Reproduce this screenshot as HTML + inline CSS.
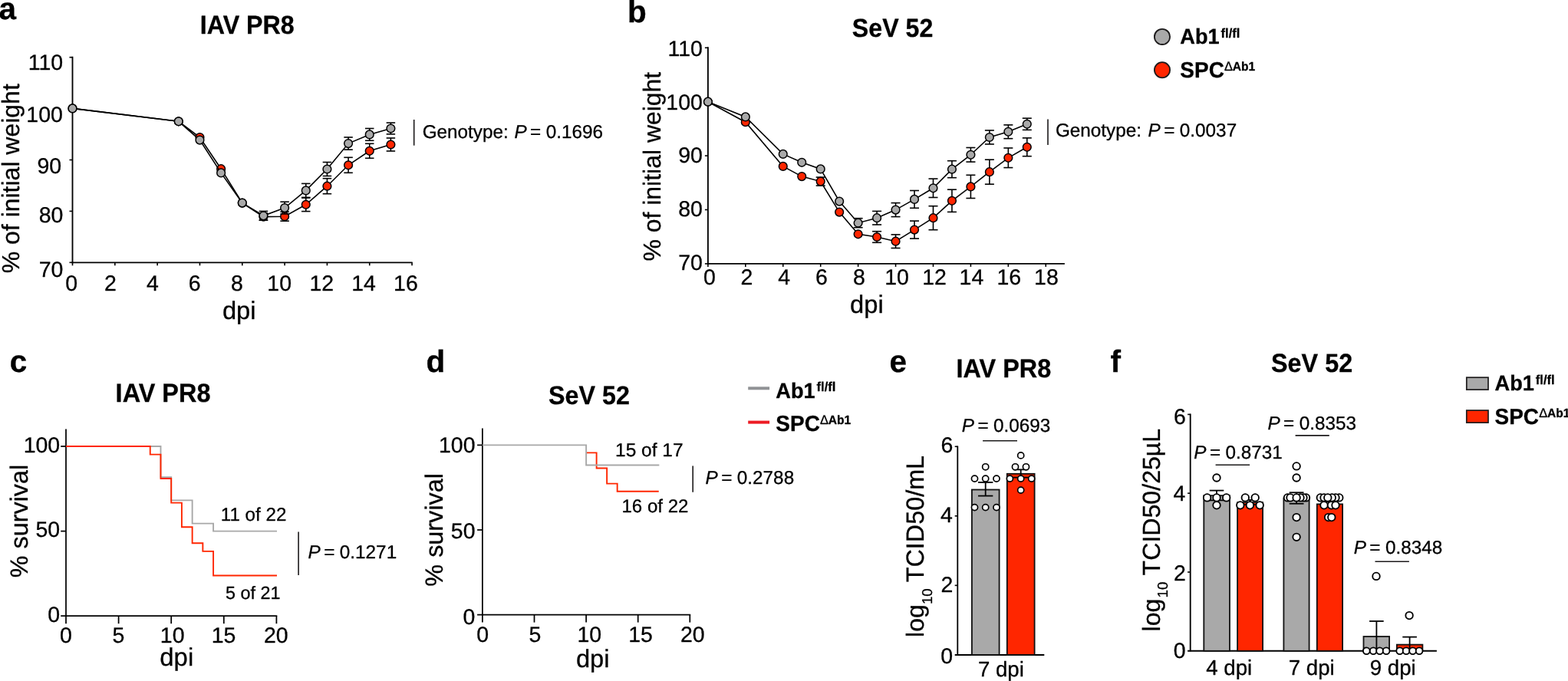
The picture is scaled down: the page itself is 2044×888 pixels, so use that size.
<!DOCTYPE html>
<html lang="en">
<head>
<meta charset="utf-8">
<title>Figure</title>
<style>
html,body{margin:0;padding:0;background:#fff;}
body{width:2044px;height:888px;overflow:hidden;}
svg{display:block;font-family:"Liberation Sans",Arial,Helvetica,sans-serif;fill:#000;text-rendering:geometricPrecision;}
text{stroke:#000;stroke-width:0.3px;stroke-linejoin:round;}
</style>
</head>
<body>
<svg width="2044" height="888" viewBox="0 0 2044 888">
<rect x="0" y="0" width="2044" height="888" fill="#fff" stroke="none"/>
<text x="-1.51" y="24.70" font-size="40.50" font-weight="bold">a</text>
<text transform="translate(260.82 43.50) scale(1 1.05)" font-size="32.23" font-weight="bold">IAV PR8</text>
<line x1="94.50" y1="73.77" x2="94.50" y2="343.23" stroke="#000" stroke-width="1.85" stroke-linecap="butt"/>
<line x1="93.58" y1="342.30" x2="537.66" y2="342.30" stroke="#000" stroke-width="1.85" stroke-linecap="butt"/>
<line x1="94.50" y1="342.30" x2="94.50" y2="346.30" stroke="#000" stroke-width="1.6" stroke-linecap="butt"/>
<line x1="149.82" y1="342.30" x2="149.82" y2="346.30" stroke="#000" stroke-width="1.6" stroke-linecap="butt"/>
<line x1="205.14" y1="342.30" x2="205.14" y2="346.30" stroke="#000" stroke-width="1.6" stroke-linecap="butt"/>
<line x1="260.46" y1="342.30" x2="260.46" y2="346.30" stroke="#000" stroke-width="1.6" stroke-linecap="butt"/>
<line x1="315.78" y1="342.30" x2="315.78" y2="346.30" stroke="#000" stroke-width="1.6" stroke-linecap="butt"/>
<line x1="371.10" y1="342.30" x2="371.10" y2="346.30" stroke="#000" stroke-width="1.6" stroke-linecap="butt"/>
<line x1="426.42" y1="342.30" x2="426.42" y2="346.30" stroke="#000" stroke-width="1.6" stroke-linecap="butt"/>
<line x1="481.74" y1="342.30" x2="481.74" y2="346.30" stroke="#000" stroke-width="1.6" stroke-linecap="butt"/>
<line x1="537.06" y1="342.30" x2="537.06" y2="346.30" stroke="#000" stroke-width="1.6" stroke-linecap="butt"/>
<line x1="90.50" y1="342.30" x2="94.50" y2="342.30" stroke="#000" stroke-width="1.6" stroke-linecap="butt"/>
<line x1="90.50" y1="275.40" x2="94.50" y2="275.40" stroke="#000" stroke-width="1.6" stroke-linecap="butt"/>
<line x1="90.50" y1="208.50" x2="94.50" y2="208.50" stroke="#000" stroke-width="1.6" stroke-linecap="butt"/>
<line x1="90.50" y1="141.60" x2="94.50" y2="141.60" stroke="#000" stroke-width="1.6" stroke-linecap="butt"/>
<line x1="90.50" y1="74.70" x2="94.50" y2="74.70" stroke="#000" stroke-width="1.6" stroke-linecap="butt"/>
<text x="36.68" y="91.00" font-size="28.50">110</text>
<text x="34.34" y="158.60" font-size="28.50">100</text>
<text x="48.43" y="226.00" font-size="28.50">90</text>
<text x="50.63" y="290.00" font-size="28.50">80</text>
<text x="50.63" y="360.90" font-size="28.50">70</text>
<text x="85.21" y="379.30" font-size="28.50">0</text>
<text x="136.09" y="379.30" font-size="28.50">2</text>
<text x="191.06" y="379.30" font-size="28.50">4</text>
<text x="245.78" y="379.30" font-size="28.50">6</text>
<text x="301.09" y="379.30" font-size="28.50">8</text>
<text x="348.35" y="379.30" font-size="28.50">10</text>
<text x="403.48" y="379.30" font-size="28.50">12</text>
<text x="458.21" y="379.30" font-size="28.50">14</text>
<text x="513.12" y="379.30" font-size="28.50">16</text>
<text x="289.91" y="415.50" font-size="32.73">dpi</text>
<text x="24.80" y="356.22" transform="rotate(-90 24.80 356.22)" font-size="31.97">% of initial weight</text>
<polyline points="94.50,141.40 232.80,158.30 260.46,179.00 288.12,220.20 315.78,264.60 343.44,282.60 371.10,282.20 398.76,266.80 426.42,242.70 454.08,215.30 481.74,196.80 509.40,188.50" fill="none" stroke="#000" stroke-width="1.6" stroke-linejoin="miter"/>
<line x1="343.44" y1="278.00" x2="343.44" y2="287.20" stroke="#000" stroke-width="1.6" stroke-linecap="butt"/>
<line x1="337.69" y1="278.00" x2="349.19" y2="278.00" stroke="#000" stroke-width="1.6" stroke-linecap="butt"/>
<line x1="337.69" y1="287.20" x2="349.19" y2="287.20" stroke="#000" stroke-width="1.6" stroke-linecap="butt"/>
<line x1="371.10" y1="276.20" x2="371.10" y2="288.20" stroke="#000" stroke-width="1.6" stroke-linecap="butt"/>
<line x1="365.35" y1="276.20" x2="376.85" y2="276.20" stroke="#000" stroke-width="1.6" stroke-linecap="butt"/>
<line x1="365.35" y1="288.20" x2="376.85" y2="288.20" stroke="#000" stroke-width="1.6" stroke-linecap="butt"/>
<line x1="398.76" y1="258.00" x2="398.76" y2="275.60" stroke="#000" stroke-width="1.6" stroke-linecap="butt"/>
<line x1="393.01" y1="258.00" x2="404.51" y2="258.00" stroke="#000" stroke-width="1.6" stroke-linecap="butt"/>
<line x1="393.01" y1="275.60" x2="404.51" y2="275.60" stroke="#000" stroke-width="1.6" stroke-linecap="butt"/>
<line x1="426.42" y1="232.70" x2="426.42" y2="252.70" stroke="#000" stroke-width="1.6" stroke-linecap="butt"/>
<line x1="420.67" y1="232.70" x2="432.17" y2="232.70" stroke="#000" stroke-width="1.6" stroke-linecap="butt"/>
<line x1="420.67" y1="252.70" x2="432.17" y2="252.70" stroke="#000" stroke-width="1.6" stroke-linecap="butt"/>
<line x1="454.08" y1="205.30" x2="454.08" y2="225.30" stroke="#000" stroke-width="1.6" stroke-linecap="butt"/>
<line x1="448.33" y1="205.30" x2="459.83" y2="205.30" stroke="#000" stroke-width="1.6" stroke-linecap="butt"/>
<line x1="448.33" y1="225.30" x2="459.83" y2="225.30" stroke="#000" stroke-width="1.6" stroke-linecap="butt"/>
<line x1="481.74" y1="187.30" x2="481.74" y2="206.30" stroke="#000" stroke-width="1.6" stroke-linecap="butt"/>
<line x1="475.99" y1="187.30" x2="487.49" y2="187.30" stroke="#000" stroke-width="1.6" stroke-linecap="butt"/>
<line x1="475.99" y1="206.30" x2="487.49" y2="206.30" stroke="#000" stroke-width="1.6" stroke-linecap="butt"/>
<line x1="509.40" y1="180.00" x2="509.40" y2="197.00" stroke="#000" stroke-width="1.6" stroke-linecap="butt"/>
<line x1="503.65" y1="180.00" x2="515.15" y2="180.00" stroke="#000" stroke-width="1.6" stroke-linecap="butt"/>
<line x1="503.65" y1="197.00" x2="515.15" y2="197.00" stroke="#000" stroke-width="1.6" stroke-linecap="butt"/>
<circle cx="94.50" cy="141.40" r="5.35" fill="#ff2600" stroke="#000" stroke-width="1.5"/>
<circle cx="232.80" cy="158.30" r="5.35" fill="#ff2600" stroke="#000" stroke-width="1.5"/>
<circle cx="260.46" cy="179.00" r="5.35" fill="#ff2600" stroke="#000" stroke-width="1.5"/>
<circle cx="288.12" cy="220.20" r="5.35" fill="#ff2600" stroke="#000" stroke-width="1.5"/>
<circle cx="315.78" cy="264.60" r="5.35" fill="#ff2600" stroke="#000" stroke-width="1.5"/>
<circle cx="343.44" cy="282.60" r="5.35" fill="#ff2600" stroke="#000" stroke-width="1.5"/>
<circle cx="371.10" cy="282.20" r="5.35" fill="#ff2600" stroke="#000" stroke-width="1.5"/>
<circle cx="398.76" cy="266.80" r="5.35" fill="#ff2600" stroke="#000" stroke-width="1.5"/>
<circle cx="426.42" cy="242.70" r="5.35" fill="#ff2600" stroke="#000" stroke-width="1.5"/>
<circle cx="454.08" cy="215.30" r="5.35" fill="#ff2600" stroke="#000" stroke-width="1.5"/>
<circle cx="481.74" cy="196.80" r="5.35" fill="#ff2600" stroke="#000" stroke-width="1.5"/>
<circle cx="509.40" cy="188.50" r="5.35" fill="#ff2600" stroke="#000" stroke-width="1.5"/>
<polyline points="94.50,141.40 232.80,158.30 260.46,182.60 288.12,225.40 315.78,264.60 343.44,281.30 371.10,271.10 398.76,248.40 426.42,220.50 454.08,187.10 481.74,175.40 509.40,167.50" fill="none" stroke="#000" stroke-width="1.6" stroke-linejoin="miter"/>
<line x1="343.44" y1="275.40" x2="343.44" y2="287.20" stroke="#000" stroke-width="1.6" stroke-linecap="butt"/>
<line x1="337.69" y1="275.40" x2="349.19" y2="275.40" stroke="#000" stroke-width="1.6" stroke-linecap="butt"/>
<line x1="337.69" y1="287.20" x2="349.19" y2="287.20" stroke="#000" stroke-width="1.6" stroke-linecap="butt"/>
<line x1="371.10" y1="263.20" x2="371.10" y2="279.00" stroke="#000" stroke-width="1.6" stroke-linecap="butt"/>
<line x1="365.35" y1="263.20" x2="376.85" y2="263.20" stroke="#000" stroke-width="1.6" stroke-linecap="butt"/>
<line x1="365.35" y1="279.00" x2="376.85" y2="279.00" stroke="#000" stroke-width="1.6" stroke-linecap="butt"/>
<line x1="398.76" y1="239.40" x2="398.76" y2="257.40" stroke="#000" stroke-width="1.6" stroke-linecap="butt"/>
<line x1="393.01" y1="239.40" x2="404.51" y2="239.40" stroke="#000" stroke-width="1.6" stroke-linecap="butt"/>
<line x1="393.01" y1="257.40" x2="404.51" y2="257.40" stroke="#000" stroke-width="1.6" stroke-linecap="butt"/>
<line x1="426.42" y1="211.50" x2="426.42" y2="229.50" stroke="#000" stroke-width="1.6" stroke-linecap="butt"/>
<line x1="420.67" y1="211.50" x2="432.17" y2="211.50" stroke="#000" stroke-width="1.6" stroke-linecap="butt"/>
<line x1="420.67" y1="229.50" x2="432.17" y2="229.50" stroke="#000" stroke-width="1.6" stroke-linecap="butt"/>
<line x1="454.08" y1="179.00" x2="454.08" y2="195.20" stroke="#000" stroke-width="1.6" stroke-linecap="butt"/>
<line x1="448.33" y1="179.00" x2="459.83" y2="179.00" stroke="#000" stroke-width="1.6" stroke-linecap="butt"/>
<line x1="448.33" y1="195.20" x2="459.83" y2="195.20" stroke="#000" stroke-width="1.6" stroke-linecap="butt"/>
<line x1="481.74" y1="167.50" x2="481.74" y2="183.30" stroke="#000" stroke-width="1.6" stroke-linecap="butt"/>
<line x1="475.99" y1="167.50" x2="487.49" y2="167.50" stroke="#000" stroke-width="1.6" stroke-linecap="butt"/>
<line x1="475.99" y1="183.30" x2="487.49" y2="183.30" stroke="#000" stroke-width="1.6" stroke-linecap="butt"/>
<line x1="509.40" y1="160.10" x2="509.40" y2="174.90" stroke="#000" stroke-width="1.6" stroke-linecap="butt"/>
<line x1="503.65" y1="160.10" x2="515.15" y2="160.10" stroke="#000" stroke-width="1.6" stroke-linecap="butt"/>
<line x1="503.65" y1="174.90" x2="515.15" y2="174.90" stroke="#000" stroke-width="1.6" stroke-linecap="butt"/>
<circle cx="94.50" cy="141.40" r="5.35" fill="#a9a9a9" stroke="#000" stroke-width="1.5"/>
<circle cx="232.80" cy="158.30" r="5.35" fill="#a9a9a9" stroke="#000" stroke-width="1.5"/>
<circle cx="260.46" cy="182.60" r="5.35" fill="#a9a9a9" stroke="#000" stroke-width="1.5"/>
<circle cx="288.12" cy="225.40" r="5.35" fill="#a9a9a9" stroke="#000" stroke-width="1.5"/>
<circle cx="315.78" cy="264.60" r="5.35" fill="#a9a9a9" stroke="#000" stroke-width="1.5"/>
<circle cx="343.44" cy="281.30" r="5.35" fill="#a9a9a9" stroke="#000" stroke-width="1.5"/>
<circle cx="371.10" cy="271.10" r="5.35" fill="#a9a9a9" stroke="#000" stroke-width="1.5"/>
<circle cx="398.76" cy="248.40" r="5.35" fill="#a9a9a9" stroke="#000" stroke-width="1.5"/>
<circle cx="426.42" cy="220.50" r="5.35" fill="#a9a9a9" stroke="#000" stroke-width="1.5"/>
<circle cx="454.08" cy="187.10" r="5.35" fill="#a9a9a9" stroke="#000" stroke-width="1.5"/>
<circle cx="481.74" cy="175.40" r="5.35" fill="#a9a9a9" stroke="#000" stroke-width="1.5"/>
<circle cx="509.40" cy="167.50" r="5.35" fill="#a9a9a9" stroke="#000" stroke-width="1.5"/>
<line x1="539.70" y1="156.00" x2="539.70" y2="189.70" stroke="#1c1a1b" stroke-width="1.6" stroke-linecap="butt"/>
<text y="179.80" font-size="24.3"><tspan x="550.68">Genotype:</tspan> <tspan x="670.47" font-style="italic">P</tspan> <tspan x="691.12">=</tspan> <tspan x="711.73">0.1696</tspan></text>
<text x="818.07" y="28.70" font-size="40.50" font-weight="bold">b</text>
<text transform="translate(1110.84 47.90) scale(1 1.05)" font-size="32.16" font-weight="bold">SeV 52</text>
<line x1="922.90" y1="61.37" x2="922.90" y2="344.82" stroke="#000" stroke-width="1.85" stroke-linecap="butt"/>
<line x1="921.98" y1="343.90" x2="1387.90" y2="343.90" stroke="#000" stroke-width="1.85" stroke-linecap="butt"/>
<line x1="922.90" y1="343.90" x2="922.90" y2="347.90" stroke="#000" stroke-width="1.6" stroke-linecap="butt"/>
<line x1="971.83" y1="343.90" x2="971.83" y2="347.90" stroke="#000" stroke-width="1.6" stroke-linecap="butt"/>
<line x1="1020.76" y1="343.90" x2="1020.76" y2="347.90" stroke="#000" stroke-width="1.6" stroke-linecap="butt"/>
<line x1="1069.69" y1="343.90" x2="1069.69" y2="347.90" stroke="#000" stroke-width="1.6" stroke-linecap="butt"/>
<line x1="1118.62" y1="343.90" x2="1118.62" y2="347.90" stroke="#000" stroke-width="1.6" stroke-linecap="butt"/>
<line x1="1167.55" y1="343.90" x2="1167.55" y2="347.90" stroke="#000" stroke-width="1.6" stroke-linecap="butt"/>
<line x1="1216.48" y1="343.90" x2="1216.48" y2="347.90" stroke="#000" stroke-width="1.6" stroke-linecap="butt"/>
<line x1="1265.41" y1="343.90" x2="1265.41" y2="347.90" stroke="#000" stroke-width="1.6" stroke-linecap="butt"/>
<line x1="1314.34" y1="343.90" x2="1314.34" y2="347.90" stroke="#000" stroke-width="1.6" stroke-linecap="butt"/>
<line x1="1363.27" y1="343.90" x2="1363.27" y2="347.90" stroke="#000" stroke-width="1.6" stroke-linecap="butt"/>
<line x1="918.90" y1="343.90" x2="922.90" y2="343.90" stroke="#000" stroke-width="1.6" stroke-linecap="butt"/>
<line x1="918.90" y1="273.50" x2="922.90" y2="273.50" stroke="#000" stroke-width="1.6" stroke-linecap="butt"/>
<line x1="918.90" y1="203.10" x2="922.90" y2="203.10" stroke="#000" stroke-width="1.6" stroke-linecap="butt"/>
<line x1="918.90" y1="132.70" x2="922.90" y2="132.70" stroke="#000" stroke-width="1.6" stroke-linecap="butt"/>
<line x1="918.90" y1="62.30" x2="922.90" y2="62.30" stroke="#000" stroke-width="1.6" stroke-linecap="butt"/>
<text x="870.48" y="73.40" font-size="28.50">110</text>
<text x="868.34" y="142.60" font-size="28.50">100</text>
<text x="884.23" y="212.00" font-size="28.50">90</text>
<text x="884.23" y="282.30" font-size="28.50">80</text>
<text x="884.23" y="352.10" font-size="28.50">70</text>
<text x="917.06" y="371.30" font-size="28.50">0</text>
<text x="965.49" y="371.30" font-size="28.50">2</text>
<text x="1014.26" y="371.30" font-size="28.50">4</text>
<text x="1062.98" y="371.30" font-size="28.50">6</text>
<text x="1112.09" y="371.30" font-size="28.50">8</text>
<text x="1153.15" y="371.30" font-size="28.50">10</text>
<text x="1202.23" y="371.30" font-size="28.50">12</text>
<text x="1250.61" y="371.30" font-size="28.50">14</text>
<text x="1299.52" y="371.30" font-size="28.50">16</text>
<text x="1348.12" y="371.30" font-size="28.50">18</text>
<text x="1108.01" y="407.50" font-size="32.73">dpi</text>
<text x="861.00" y="340.62" transform="rotate(-90 861.00 340.62)" font-size="31.96">% of initial weight</text>
<polyline points="922.90,132.70 971.83,159.20 1020.76,216.90 1045.22,230.10 1069.69,236.60 1094.15,276.60 1118.62,305.30 1143.09,309.00 1167.55,314.70 1192.01,299.60 1216.48,284.20 1240.94,261.80 1265.41,243.40 1289.88,224.20 1314.34,205.80 1338.80,191.80" fill="none" stroke="#000" stroke-width="1.6" stroke-linejoin="miter"/>
<line x1="1069.69" y1="231.10" x2="1069.69" y2="242.10" stroke="#000" stroke-width="1.6" stroke-linecap="butt"/>
<line x1="1063.69" y1="231.10" x2="1075.69" y2="231.10" stroke="#000" stroke-width="1.6" stroke-linecap="butt"/>
<line x1="1063.69" y1="242.10" x2="1075.69" y2="242.10" stroke="#000" stroke-width="1.6" stroke-linecap="butt"/>
<line x1="1143.09" y1="301.70" x2="1143.09" y2="316.30" stroke="#000" stroke-width="1.6" stroke-linecap="butt"/>
<line x1="1137.09" y1="301.70" x2="1149.09" y2="301.70" stroke="#000" stroke-width="1.6" stroke-linecap="butt"/>
<line x1="1137.09" y1="316.30" x2="1149.09" y2="316.30" stroke="#000" stroke-width="1.6" stroke-linecap="butt"/>
<line x1="1167.55" y1="305.90" x2="1167.55" y2="323.50" stroke="#000" stroke-width="1.6" stroke-linecap="butt"/>
<line x1="1161.55" y1="305.90" x2="1173.55" y2="305.90" stroke="#000" stroke-width="1.6" stroke-linecap="butt"/>
<line x1="1161.55" y1="323.50" x2="1173.55" y2="323.50" stroke="#000" stroke-width="1.6" stroke-linecap="butt"/>
<line x1="1192.01" y1="288.10" x2="1192.01" y2="311.10" stroke="#000" stroke-width="1.6" stroke-linecap="butt"/>
<line x1="1186.01" y1="288.10" x2="1198.01" y2="288.10" stroke="#000" stroke-width="1.6" stroke-linecap="butt"/>
<line x1="1186.01" y1="311.10" x2="1198.01" y2="311.10" stroke="#000" stroke-width="1.6" stroke-linecap="butt"/>
<line x1="1216.48" y1="268.70" x2="1216.48" y2="299.70" stroke="#000" stroke-width="1.6" stroke-linecap="butt"/>
<line x1="1210.48" y1="268.70" x2="1222.48" y2="268.70" stroke="#000" stroke-width="1.6" stroke-linecap="butt"/>
<line x1="1210.48" y1="299.70" x2="1222.48" y2="299.70" stroke="#000" stroke-width="1.6" stroke-linecap="butt"/>
<line x1="1240.94" y1="247.20" x2="1240.94" y2="276.40" stroke="#000" stroke-width="1.6" stroke-linecap="butt"/>
<line x1="1234.94" y1="247.20" x2="1246.94" y2="247.20" stroke="#000" stroke-width="1.6" stroke-linecap="butt"/>
<line x1="1234.94" y1="276.40" x2="1246.94" y2="276.40" stroke="#000" stroke-width="1.6" stroke-linecap="butt"/>
<line x1="1265.41" y1="228.30" x2="1265.41" y2="258.50" stroke="#000" stroke-width="1.6" stroke-linecap="butt"/>
<line x1="1259.41" y1="228.30" x2="1271.41" y2="228.30" stroke="#000" stroke-width="1.6" stroke-linecap="butt"/>
<line x1="1259.41" y1="258.50" x2="1271.41" y2="258.50" stroke="#000" stroke-width="1.6" stroke-linecap="butt"/>
<line x1="1289.88" y1="208.20" x2="1289.88" y2="240.20" stroke="#000" stroke-width="1.6" stroke-linecap="butt"/>
<line x1="1283.88" y1="208.20" x2="1295.88" y2="208.20" stroke="#000" stroke-width="1.6" stroke-linecap="butt"/>
<line x1="1283.88" y1="240.20" x2="1295.88" y2="240.20" stroke="#000" stroke-width="1.6" stroke-linecap="butt"/>
<line x1="1314.34" y1="193.00" x2="1314.34" y2="218.60" stroke="#000" stroke-width="1.6" stroke-linecap="butt"/>
<line x1="1308.34" y1="193.00" x2="1320.34" y2="193.00" stroke="#000" stroke-width="1.6" stroke-linecap="butt"/>
<line x1="1308.34" y1="218.60" x2="1320.34" y2="218.60" stroke="#000" stroke-width="1.6" stroke-linecap="butt"/>
<line x1="1338.80" y1="179.90" x2="1338.80" y2="203.70" stroke="#000" stroke-width="1.6" stroke-linecap="butt"/>
<line x1="1332.80" y1="179.90" x2="1344.80" y2="179.90" stroke="#000" stroke-width="1.6" stroke-linecap="butt"/>
<line x1="1332.80" y1="203.70" x2="1344.80" y2="203.70" stroke="#000" stroke-width="1.6" stroke-linecap="butt"/>
<circle cx="922.90" cy="132.70" r="5.35" fill="#ff2600" stroke="#000" stroke-width="1.5"/>
<circle cx="971.83" cy="159.20" r="5.35" fill="#ff2600" stroke="#000" stroke-width="1.5"/>
<circle cx="1020.76" cy="216.90" r="5.35" fill="#ff2600" stroke="#000" stroke-width="1.5"/>
<circle cx="1045.22" cy="230.10" r="5.35" fill="#ff2600" stroke="#000" stroke-width="1.5"/>
<circle cx="1069.69" cy="236.60" r="5.35" fill="#ff2600" stroke="#000" stroke-width="1.5"/>
<circle cx="1094.15" cy="276.60" r="5.35" fill="#ff2600" stroke="#000" stroke-width="1.5"/>
<circle cx="1118.62" cy="305.30" r="5.35" fill="#ff2600" stroke="#000" stroke-width="1.5"/>
<circle cx="1143.09" cy="309.00" r="5.35" fill="#ff2600" stroke="#000" stroke-width="1.5"/>
<circle cx="1167.55" cy="314.70" r="5.35" fill="#ff2600" stroke="#000" stroke-width="1.5"/>
<circle cx="1192.01" cy="299.60" r="5.35" fill="#ff2600" stroke="#000" stroke-width="1.5"/>
<circle cx="1216.48" cy="284.20" r="5.35" fill="#ff2600" stroke="#000" stroke-width="1.5"/>
<circle cx="1240.94" cy="261.80" r="5.35" fill="#ff2600" stroke="#000" stroke-width="1.5"/>
<circle cx="1265.41" cy="243.40" r="5.35" fill="#ff2600" stroke="#000" stroke-width="1.5"/>
<circle cx="1289.88" cy="224.20" r="5.35" fill="#ff2600" stroke="#000" stroke-width="1.5"/>
<circle cx="1314.34" cy="205.80" r="5.35" fill="#ff2600" stroke="#000" stroke-width="1.5"/>
<circle cx="1338.80" cy="191.80" r="5.35" fill="#ff2600" stroke="#000" stroke-width="1.5"/>
<polyline points="922.90,132.70 971.83,152.40 1020.76,200.90 1045.22,211.80 1069.69,220.40 1094.15,262.60 1118.62,290.70 1143.09,284.20 1167.55,273.60 1192.01,259.90 1216.48,245.30 1240.94,220.70 1265.41,201.80 1289.88,179.00 1314.34,171.80 1338.80,161.80" fill="none" stroke="#000" stroke-width="1.6" stroke-linejoin="miter"/>
<line x1="1118.62" y1="284.70" x2="1118.62" y2="296.70" stroke="#000" stroke-width="1.6" stroke-linecap="butt"/>
<line x1="1112.62" y1="284.70" x2="1124.62" y2="284.70" stroke="#000" stroke-width="1.6" stroke-linecap="butt"/>
<line x1="1112.62" y1="296.70" x2="1124.62" y2="296.70" stroke="#000" stroke-width="1.6" stroke-linecap="butt"/>
<line x1="1143.09" y1="275.40" x2="1143.09" y2="293.00" stroke="#000" stroke-width="1.6" stroke-linecap="butt"/>
<line x1="1137.09" y1="275.40" x2="1149.09" y2="275.40" stroke="#000" stroke-width="1.6" stroke-linecap="butt"/>
<line x1="1137.09" y1="293.00" x2="1149.09" y2="293.00" stroke="#000" stroke-width="1.6" stroke-linecap="butt"/>
<line x1="1167.55" y1="264.60" x2="1167.55" y2="282.60" stroke="#000" stroke-width="1.6" stroke-linecap="butt"/>
<line x1="1161.55" y1="264.60" x2="1173.55" y2="264.60" stroke="#000" stroke-width="1.6" stroke-linecap="butt"/>
<line x1="1161.55" y1="282.60" x2="1173.55" y2="282.60" stroke="#000" stroke-width="1.6" stroke-linecap="butt"/>
<line x1="1192.01" y1="248.50" x2="1192.01" y2="271.30" stroke="#000" stroke-width="1.6" stroke-linecap="butt"/>
<line x1="1186.01" y1="248.50" x2="1198.01" y2="248.50" stroke="#000" stroke-width="1.6" stroke-linecap="butt"/>
<line x1="1186.01" y1="271.30" x2="1198.01" y2="271.30" stroke="#000" stroke-width="1.6" stroke-linecap="butt"/>
<line x1="1216.48" y1="233.10" x2="1216.48" y2="257.50" stroke="#000" stroke-width="1.6" stroke-linecap="butt"/>
<line x1="1210.48" y1="233.10" x2="1222.48" y2="233.10" stroke="#000" stroke-width="1.6" stroke-linecap="butt"/>
<line x1="1210.48" y1="257.50" x2="1222.48" y2="257.50" stroke="#000" stroke-width="1.6" stroke-linecap="butt"/>
<line x1="1240.94" y1="209.70" x2="1240.94" y2="231.70" stroke="#000" stroke-width="1.6" stroke-linecap="butt"/>
<line x1="1234.94" y1="209.70" x2="1246.94" y2="209.70" stroke="#000" stroke-width="1.6" stroke-linecap="butt"/>
<line x1="1234.94" y1="231.70" x2="1246.94" y2="231.70" stroke="#000" stroke-width="1.6" stroke-linecap="butt"/>
<line x1="1265.41" y1="192.50" x2="1265.41" y2="211.10" stroke="#000" stroke-width="1.6" stroke-linecap="butt"/>
<line x1="1259.41" y1="192.50" x2="1271.41" y2="192.50" stroke="#000" stroke-width="1.6" stroke-linecap="butt"/>
<line x1="1259.41" y1="211.10" x2="1271.41" y2="211.10" stroke="#000" stroke-width="1.6" stroke-linecap="butt"/>
<line x1="1289.88" y1="170.00" x2="1289.88" y2="188.00" stroke="#000" stroke-width="1.6" stroke-linecap="butt"/>
<line x1="1283.88" y1="170.00" x2="1295.88" y2="170.00" stroke="#000" stroke-width="1.6" stroke-linecap="butt"/>
<line x1="1283.88" y1="188.00" x2="1295.88" y2="188.00" stroke="#000" stroke-width="1.6" stroke-linecap="butt"/>
<line x1="1314.34" y1="162.90" x2="1314.34" y2="180.70" stroke="#000" stroke-width="1.6" stroke-linecap="butt"/>
<line x1="1308.34" y1="162.90" x2="1320.34" y2="162.90" stroke="#000" stroke-width="1.6" stroke-linecap="butt"/>
<line x1="1308.34" y1="180.70" x2="1320.34" y2="180.70" stroke="#000" stroke-width="1.6" stroke-linecap="butt"/>
<line x1="1338.80" y1="154.20" x2="1338.80" y2="169.40" stroke="#000" stroke-width="1.6" stroke-linecap="butt"/>
<line x1="1332.80" y1="154.20" x2="1344.80" y2="154.20" stroke="#000" stroke-width="1.6" stroke-linecap="butt"/>
<line x1="1332.80" y1="169.40" x2="1344.80" y2="169.40" stroke="#000" stroke-width="1.6" stroke-linecap="butt"/>
<circle cx="922.90" cy="132.70" r="5.35" fill="#a9a9a9" stroke="#000" stroke-width="1.5"/>
<circle cx="971.83" cy="152.40" r="5.35" fill="#a9a9a9" stroke="#000" stroke-width="1.5"/>
<circle cx="1020.76" cy="200.90" r="5.35" fill="#a9a9a9" stroke="#000" stroke-width="1.5"/>
<circle cx="1045.22" cy="211.80" r="5.35" fill="#a9a9a9" stroke="#000" stroke-width="1.5"/>
<circle cx="1069.69" cy="220.40" r="5.35" fill="#a9a9a9" stroke="#000" stroke-width="1.5"/>
<circle cx="1094.15" cy="262.60" r="5.35" fill="#a9a9a9" stroke="#000" stroke-width="1.5"/>
<circle cx="1118.62" cy="290.70" r="5.35" fill="#a9a9a9" stroke="#000" stroke-width="1.5"/>
<circle cx="1143.09" cy="284.20" r="5.35" fill="#a9a9a9" stroke="#000" stroke-width="1.5"/>
<circle cx="1167.55" cy="273.60" r="5.35" fill="#a9a9a9" stroke="#000" stroke-width="1.5"/>
<circle cx="1192.01" cy="259.90" r="5.35" fill="#a9a9a9" stroke="#000" stroke-width="1.5"/>
<circle cx="1216.48" cy="245.30" r="5.35" fill="#a9a9a9" stroke="#000" stroke-width="1.5"/>
<circle cx="1240.94" cy="220.70" r="5.35" fill="#a9a9a9" stroke="#000" stroke-width="1.5"/>
<circle cx="1265.41" cy="201.80" r="5.35" fill="#a9a9a9" stroke="#000" stroke-width="1.5"/>
<circle cx="1289.88" cy="179.00" r="5.35" fill="#a9a9a9" stroke="#000" stroke-width="1.5"/>
<circle cx="1314.34" cy="171.80" r="5.35" fill="#a9a9a9" stroke="#000" stroke-width="1.5"/>
<circle cx="1338.80" cy="161.80" r="5.35" fill="#a9a9a9" stroke="#000" stroke-width="1.5"/>
<line x1="1366.00" y1="155.40" x2="1366.00" y2="189.00" stroke="#1c1a1b" stroke-width="1.6" stroke-linecap="butt"/>
<text y="177.80" font-size="24.3"><tspan x="1375.88">Genotype:</tspan> <tspan x="1496.57" font-style="italic">P</tspan> <tspan x="1517.22">=</tspan> <tspan x="1537.83">0.0037</tspan></text>
<circle cx="1515.00" cy="47.90" r="10.10" fill="#a9a9a9" stroke="#1c1a1b" stroke-width="1.8"/>
<circle cx="1515.00" cy="91.20" r="10.10" fill="#ff2600" stroke="#1c1a1b" stroke-width="1.8"/>
<text transform="translate(0 57.40) scale(1 1.03)" font-weight="bold" font-size="27.2"><tspan x="1538.32" y="0">Ab1</tspan><tspan x="1591.61" y="-8.54" font-size="16.50">fl/fl</tspan></text>
<text transform="translate(0 101.10) scale(1 1.03)" font-weight="bold" font-size="27.95"><tspan x="1538.36" y="0">SPC</tspan><tspan x="1596.11" y="-9.22" font-size="16.4" font-weight="normal">Δ</tspan><tspan x="1606.81" y="-9.22" font-size="15.6">Ab1</tspan></text>
<text x="12.78" y="484.80" font-size="40.50" font-weight="bold">c</text>
<text transform="translate(150.61 524.10) scale(1 1.05)" font-size="32.47" font-weight="bold">IAV PR8</text>
<line x1="86.00" y1="559.50" x2="86.00" y2="804.08" stroke="#000" stroke-width="1.75" stroke-linecap="butt"/>
<line x1="79.20" y1="803.20" x2="361.28" y2="803.20" stroke="#000" stroke-width="1.75" stroke-linecap="butt"/>
<line x1="86.00" y1="803.20" x2="86.00" y2="813.20" stroke="#000" stroke-width="1.75" stroke-linecap="butt"/>
<line x1="154.60" y1="803.20" x2="154.60" y2="813.20" stroke="#000" stroke-width="1.75" stroke-linecap="butt"/>
<line x1="223.20" y1="803.20" x2="223.20" y2="813.20" stroke="#000" stroke-width="1.75" stroke-linecap="butt"/>
<line x1="291.80" y1="803.20" x2="291.80" y2="813.20" stroke="#000" stroke-width="1.75" stroke-linecap="butt"/>
<line x1="360.40" y1="803.20" x2="360.40" y2="813.20" stroke="#000" stroke-width="1.75" stroke-linecap="butt"/>
<line x1="79.20" y1="692.60" x2="86.00" y2="692.60" stroke="#000" stroke-width="1.75" stroke-linecap="butt"/>
<line x1="79.20" y1="582.00" x2="86.00" y2="582.00" stroke="#000" stroke-width="1.75" stroke-linecap="butt"/>
<polyline points="86.00,582.00 209.48,582.00 209.48,622.26 223.20,622.26 223.20,652.34 250.64,652.34 250.64,682.65 278.08,682.65 278.08,692.60 361.00,692.60" fill="none" stroke="#a8a8a8" stroke-width="1.9" stroke-linejoin="miter"/>
<polyline points="86.00,582.00 195.76,582.00 195.76,592.62 209.48,592.62 209.48,624.03 223.20,624.03 223.20,655.66 236.92,655.66 236.92,687.29 250.64,687.29 250.64,708.31 264.36,708.31 264.36,718.92 278.08,718.92 278.08,750.55 361.00,750.55" fill="none" stroke="#ff2600" stroke-width="1.9" stroke-linejoin="miter"/>
<text x="30.64" y="590.00" font-size="28.50">100</text>
<text x="46.53" y="699.80" font-size="28.50">50</text>
<text x="62.25" y="810.80" font-size="28.50">0</text>
<text x="78.06" y="837.50" font-size="28.50">0</text>
<text x="146.39" y="837.50" font-size="28.50">5</text>
<text x="208.85" y="837.50" font-size="28.50">10</text>
<text x="275.68" y="837.50" font-size="28.50">15</text>
<text x="344.00" y="837.50" font-size="28.50">20</text>
<text x="208.30" y="868.10" font-size="32.90">dpi</text>
<text x="36.00" y="753.13" transform="rotate(-90 36.00 753.13)" font-size="32.32">% survival</text>
<text x="287.79" y="678.50" font-size="24.19">11 of 22</text>
<text x="294.07" y="781.20" font-size="23.37">5 of 21</text>
<line x1="389.10" y1="693.50" x2="389.10" y2="749.90" stroke="#1c1a1b" stroke-width="1.6" stroke-linecap="butt"/>
<text y="727.50" font-size="24.3"><tspan x="401.57" font-style="italic">P</tspan> <tspan x="422.22">=</tspan> <tspan x="442.83">0.1271</tspan></text>
<text x="555.48" y="484.80" font-size="40.50" font-weight="bold">d</text>
<text transform="translate(715.03 527.20) scale(1 1.05)" font-size="32.25" font-weight="bold">SeV 52</text>
<line x1="628.90" y1="558.60" x2="628.90" y2="802.48" stroke="#000" stroke-width="1.75" stroke-linecap="butt"/>
<line x1="622.10" y1="801.60" x2="900.17" y2="801.60" stroke="#000" stroke-width="1.75" stroke-linecap="butt"/>
<line x1="628.90" y1="801.60" x2="628.90" y2="811.60" stroke="#000" stroke-width="1.75" stroke-linecap="butt"/>
<line x1="696.50" y1="801.60" x2="696.50" y2="811.60" stroke="#000" stroke-width="1.75" stroke-linecap="butt"/>
<line x1="764.10" y1="801.60" x2="764.10" y2="811.60" stroke="#000" stroke-width="1.75" stroke-linecap="butt"/>
<line x1="831.70" y1="801.60" x2="831.70" y2="811.60" stroke="#000" stroke-width="1.75" stroke-linecap="butt"/>
<line x1="899.30" y1="801.60" x2="899.30" y2="811.60" stroke="#000" stroke-width="1.75" stroke-linecap="butt"/>
<line x1="622.10" y1="691.00" x2="628.90" y2="691.00" stroke="#000" stroke-width="1.75" stroke-linecap="butt"/>
<line x1="622.10" y1="580.40" x2="628.90" y2="580.40" stroke="#000" stroke-width="1.75" stroke-linecap="butt"/>
<polyline points="765.00,590.35 777.62,590.35 777.62,610.48 791.14,610.48 791.14,630.61 804.66,630.61 804.66,640.79 858.74,640.79" fill="none" stroke="#ff2600" stroke-width="1.9" stroke-linejoin="miter"/>
<polyline points="628.90,580.40 764.10,580.40 764.10,606.50 859.34,606.50" fill="none" stroke="#a8a8a8" stroke-width="1.9" stroke-linejoin="miter"/>
<text x="571.94" y="589.60" font-size="28.50">100</text>
<text x="587.83" y="701.60" font-size="28.50">50</text>
<text x="603.55" y="813.80" font-size="28.50">0</text>
<text x="621.26" y="837.30" font-size="28.50">0</text>
<text x="689.59" y="837.30" font-size="28.50">5</text>
<text x="752.45" y="837.30" font-size="28.50">10</text>
<text x="819.18" y="837.30" font-size="28.50">15</text>
<text x="887.00" y="837.30" font-size="28.50">20</text>
<text x="750.91" y="870.10" font-size="32.73">dpi</text>
<text x="576.60" y="764.63" transform="rotate(-90 576.60 764.63)" font-size="32.39">% survival</text>
<text x="802.06" y="594.90" font-size="24.49">15 of 17</text>
<text x="810.50" y="667.90" font-size="24.06">16 of 22</text>
<line x1="903.20" y1="607.60" x2="903.20" y2="641.70" stroke="#1c1a1b" stroke-width="1.6" stroke-linecap="butt"/>
<text y="630.50" font-size="24.3"><tspan x="919.57" font-style="italic">P</tspan> <tspan x="940.22">=</tspan> <tspan x="960.83">0.2788</tspan></text>
<line x1="975.20" y1="506.30" x2="1003.10" y2="506.30" stroke="#909295" stroke-width="4.0" stroke-linecap="butt"/>
<line x1="975.20" y1="550.60" x2="1003.10" y2="550.60" stroke="#ed1c24" stroke-width="4.0" stroke-linecap="butt"/>
<text transform="translate(0 518.60) scale(1 1.03)" font-weight="bold" font-size="27.2"><tspan x="1011.32" y="0">Ab1</tspan><tspan x="1064.61" y="-8.54" font-size="16.50">fl/fl</tspan></text>
<text transform="translate(0 562.30) scale(1 1.03)" font-weight="bold" font-size="27.95"><tspan x="1011.36" y="0">SPC</tspan><tspan x="1069.11" y="-9.22" font-size="16.4" font-weight="normal">Δ</tspan><tspan x="1079.81" y="-9.22" font-size="15.6">Ab1</tspan></text>
<text x="1159.58" y="484.50" font-size="40.50" font-weight="bold">e</text>
<text transform="translate(1246.51 492.40) scale(1 1.05)" font-size="32.41" font-weight="bold">IAV PR8</text>
<line x1="1248.30" y1="581.48" x2="1248.30" y2="854.70" stroke="#000" stroke-width="1.8" stroke-linecap="butt"/>
<line x1="1244.70" y1="853.90" x2="1361.30" y2="853.90" stroke="#000" stroke-width="2.0" stroke-linecap="butt"/>
<line x1="1244.70" y1="763.36" x2="1248.30" y2="763.36" stroke="#000" stroke-width="1.6" stroke-linecap="butt"/>
<line x1="1244.70" y1="672.82" x2="1248.30" y2="672.82" stroke="#000" stroke-width="1.6" stroke-linecap="butt"/>
<line x1="1244.70" y1="582.28" x2="1248.30" y2="582.28" stroke="#000" stroke-width="1.6" stroke-linecap="butt"/>
<text x="1226.39" y="589.80" font-size="28.50">6</text>
<text x="1225.97" y="680.80" font-size="28.50">4</text>
<text x="1226.61" y="771.70" font-size="28.50">2</text>
<text x="1226.25" y="864.60" font-size="28.50">0</text>
<rect x="1266.90" y="638.50" width="35.70" height="215.40" fill="#a9a9a9" stroke="#111" stroke-width="1.8"/>
<rect x="1312.80" y="617.80" width="35.80" height="236.10" fill="#ff2600" stroke="#111" stroke-width="1.8"/>
<line x1="1284.70" y1="629.00" x2="1284.70" y2="646.60" stroke="#000" stroke-width="1.8" stroke-linecap="butt"/>
<line x1="1275.05" y1="629.00" x2="1294.35" y2="629.00" stroke="#000" stroke-width="1.8" stroke-linecap="butt"/>
<line x1="1275.05" y1="646.60" x2="1294.35" y2="646.60" stroke="#000" stroke-width="1.8" stroke-linecap="butt"/>
<line x1="1330.70" y1="612.35" x2="1330.70" y2="622.65" stroke="#000" stroke-width="1.8" stroke-linecap="butt"/>
<line x1="1321.05" y1="612.35" x2="1340.35" y2="612.35" stroke="#000" stroke-width="1.8" stroke-linecap="butt"/>
<line x1="1321.05" y1="622.65" x2="1340.35" y2="622.65" stroke="#000" stroke-width="1.8" stroke-linecap="butt"/>
<circle cx="1284.70" cy="608.80" r="4.05" fill="#fff" stroke="#000" stroke-width="1.7"/>
<circle cx="1270.50" cy="624.10" r="4.05" fill="#fff" stroke="#000" stroke-width="1.7"/>
<circle cx="1284.70" cy="624.10" r="4.05" fill="#fff" stroke="#000" stroke-width="1.7"/>
<circle cx="1299.00" cy="624.10" r="4.05" fill="#fff" stroke="#000" stroke-width="1.7"/>
<circle cx="1270.50" cy="661.60" r="4.05" fill="#fff" stroke="#000" stroke-width="1.7"/>
<circle cx="1284.70" cy="661.60" r="4.05" fill="#fff" stroke="#000" stroke-width="1.7"/>
<circle cx="1299.00" cy="661.60" r="4.05" fill="#fff" stroke="#000" stroke-width="1.7"/>
<circle cx="1330.70" cy="593.90" r="4.05" fill="#fff" stroke="#000" stroke-width="1.7"/>
<circle cx="1323.50" cy="608.80" r="4.05" fill="#fff" stroke="#000" stroke-width="1.7"/>
<circle cx="1337.50" cy="608.80" r="4.05" fill="#fff" stroke="#000" stroke-width="1.7"/>
<circle cx="1316.40" cy="624.10" r="4.05" fill="#fff" stroke="#000" stroke-width="1.7"/>
<circle cx="1330.70" cy="624.10" r="4.05" fill="#fff" stroke="#000" stroke-width="1.7"/>
<circle cx="1344.70" cy="624.10" r="4.05" fill="#fff" stroke="#000" stroke-width="1.7"/>
<circle cx="1330.70" cy="639.10" r="4.05" fill="#fff" stroke="#000" stroke-width="1.7"/>
<text y="562.80" font-size="24.3"><tspan x="1253.77" font-style="italic">P</tspan> <tspan x="1274.42">=</tspan> <tspan x="1295.03">0.0693</tspan></text>
<line x1="1281.10" y1="574.70" x2="1326.00" y2="574.70" stroke="#1c1a1b" stroke-width="1.6" stroke-linecap="butt"/>
<text x="1274.89" y="882.00" font-size="27.70">7 dpi</text>
<text transform="rotate(-90)" font-size="32.00"><tspan x="-830.96" y="1203.90">log</tspan><tspan x="-788.00" y="1214.80" font-size="18.65">10</tspan> <tspan x="-759.23" y="1203.90" font-size="32.35">TCID50/mL</tspan></text>
<text x="1447.39" y="484.80" font-size="40.50" font-weight="bold">f</text>
<text transform="translate(1657.03 484.50) scale(1 1.05)" font-size="32.37" font-weight="bold">SeV 52</text>
<line x1="1551.70" y1="539.60" x2="1551.70" y2="849.60" stroke="#000" stroke-width="1.85" stroke-linecap="butt"/>
<line x1="1548.10" y1="848.80" x2="1872.90" y2="848.80" stroke="#000" stroke-width="2.0" stroke-linecap="butt"/>
<line x1="1548.10" y1="746.00" x2="1551.70" y2="746.00" stroke="#000" stroke-width="1.6" stroke-linecap="butt"/>
<line x1="1548.10" y1="643.20" x2="1551.70" y2="643.20" stroke="#000" stroke-width="1.6" stroke-linecap="butt"/>
<line x1="1548.10" y1="540.40" x2="1551.70" y2="540.40" stroke="#000" stroke-width="1.6" stroke-linecap="butt"/>
<text x="1529.89" y="553.40" font-size="28.50">6</text>
<text x="1529.47" y="653.10" font-size="28.50">4</text>
<text x="1530.11" y="756.70" font-size="28.50">2</text>
<text x="1529.75" y="857.90" font-size="28.50">0</text>
<rect x="1569.30" y="646.20" width="33.70" height="202.60" fill="#a9a9a9" stroke="#111" stroke-width="1.8"/>
<rect x="1613.10" y="655.20" width="33.00" height="193.60" fill="#ff2600" stroke="#111" stroke-width="1.8"/>
<rect x="1673.40" y="649.60" width="33.20" height="199.20" fill="#a9a9a9" stroke="#111" stroke-width="1.8"/>
<rect x="1716.80" y="657.40" width="33.30" height="191.40" fill="#ff2600" stroke="#111" stroke-width="1.8"/>
<rect x="1777.50" y="830.00" width="33.60" height="18.80" fill="#a9a9a9" stroke="#111" stroke-width="1.8"/>
<rect x="1820.90" y="840.60" width="33.50" height="8.20" fill="#ff2600" stroke="#111" stroke-width="1.8"/>
<line x1="1586.00" y1="639.60" x2="1586.00" y2="652.40" stroke="#000" stroke-width="1.8" stroke-linecap="butt"/>
<line x1="1576.70" y1="639.60" x2="1595.30" y2="639.60" stroke="#000" stroke-width="1.8" stroke-linecap="butt"/>
<line x1="1576.70" y1="652.40" x2="1595.30" y2="652.40" stroke="#000" stroke-width="1.8" stroke-linecap="butt"/>
<line x1="1629.60" y1="652.00" x2="1629.60" y2="658.00" stroke="#000" stroke-width="1.8" stroke-linecap="butt"/>
<line x1="1620.30" y1="652.00" x2="1638.90" y2="652.00" stroke="#000" stroke-width="1.8" stroke-linecap="butt"/>
<line x1="1620.30" y1="658.00" x2="1638.90" y2="658.00" stroke="#000" stroke-width="1.8" stroke-linecap="butt"/>
<line x1="1690.10" y1="642.25" x2="1690.10" y2="656.75" stroke="#000" stroke-width="1.8" stroke-linecap="butt"/>
<line x1="1680.70" y1="642.25" x2="1699.50" y2="642.25" stroke="#000" stroke-width="1.8" stroke-linecap="butt"/>
<line x1="1680.70" y1="656.75" x2="1699.50" y2="656.75" stroke="#000" stroke-width="1.8" stroke-linecap="butt"/>
<line x1="1733.50" y1="654.20" x2="1733.50" y2="660.20" stroke="#000" stroke-width="1.8" stroke-linecap="butt"/>
<line x1="1724.20" y1="654.20" x2="1742.80" y2="654.20" stroke="#000" stroke-width="1.8" stroke-linecap="butt"/>
<line x1="1724.20" y1="660.20" x2="1742.80" y2="660.20" stroke="#000" stroke-width="1.8" stroke-linecap="butt"/>
<line x1="1794.40" y1="810.00" x2="1794.40" y2="849.80" stroke="#000" stroke-width="1.8" stroke-linecap="butt"/>
<line x1="1785.10" y1="810.00" x2="1803.70" y2="810.00" stroke="#000" stroke-width="1.8" stroke-linecap="butt"/>
<line x1="1785.10" y1="849.80" x2="1803.70" y2="849.80" stroke="#000" stroke-width="1.8" stroke-linecap="butt"/>
<line x1="1837.60" y1="830.60" x2="1837.60" y2="850.20" stroke="#000" stroke-width="1.8" stroke-linecap="butt"/>
<line x1="1828.30" y1="830.60" x2="1846.90" y2="830.60" stroke="#000" stroke-width="1.8" stroke-linecap="butt"/>
<line x1="1828.30" y1="850.20" x2="1846.90" y2="850.20" stroke="#000" stroke-width="1.8" stroke-linecap="butt"/>
<circle cx="1586.00" cy="623.00" r="4.75" fill="#fff" stroke="#000" stroke-width="1.85"/>
<circle cx="1573.60" cy="648.90" r="4.75" fill="#fff" stroke="#000" stroke-width="1.85"/>
<circle cx="1598.70" cy="648.90" r="4.75" fill="#fff" stroke="#000" stroke-width="1.85"/>
<circle cx="1586.00" cy="648.90" r="4.75" fill="#fff" stroke="#000" stroke-width="1.85"/>
<circle cx="1586.00" cy="658.80" r="4.75" fill="#fff" stroke="#000" stroke-width="1.85"/>
<circle cx="1623.30" cy="648.90" r="4.75" fill="#fff" stroke="#000" stroke-width="1.85"/>
<circle cx="1636.20" cy="648.90" r="4.75" fill="#fff" stroke="#000" stroke-width="1.85"/>
<circle cx="1616.80" cy="658.80" r="4.75" fill="#fff" stroke="#000" stroke-width="1.85"/>
<circle cx="1642.20" cy="658.80" r="4.75" fill="#fff" stroke="#000" stroke-width="1.85"/>
<circle cx="1629.40" cy="658.80" r="4.75" fill="#fff" stroke="#000" stroke-width="1.85"/>
<circle cx="1690.10" cy="607.90" r="4.75" fill="#fff" stroke="#000" stroke-width="1.85"/>
<circle cx="1690.10" cy="623.00" r="4.75" fill="#fff" stroke="#000" stroke-width="1.85"/>
<circle cx="1702.50" cy="648.90" r="4.75" fill="#fff" stroke="#000" stroke-width="1.85"/>
<circle cx="1699.00" cy="648.90" r="4.75" fill="#fff" stroke="#000" stroke-width="1.85"/>
<circle cx="1695.00" cy="648.90" r="4.75" fill="#fff" stroke="#000" stroke-width="1.85"/>
<circle cx="1678.50" cy="648.90" r="4.75" fill="#fff" stroke="#000" stroke-width="1.85"/>
<circle cx="1682.00" cy="648.90" r="4.75" fill="#fff" stroke="#000" stroke-width="1.85"/>
<circle cx="1690.10" cy="648.90" r="4.75" fill="#fff" stroke="#000" stroke-width="1.85"/>
<circle cx="1690.10" cy="674.60" r="4.75" fill="#fff" stroke="#000" stroke-width="1.85"/>
<circle cx="1690.10" cy="700.30" r="4.75" fill="#fff" stroke="#000" stroke-width="1.85"/>
<circle cx="1721.30" cy="648.90" r="4.75" fill="#fff" stroke="#000" stroke-width="1.85"/>
<circle cx="1726.00" cy="648.90" r="4.75" fill="#fff" stroke="#000" stroke-width="1.85"/>
<circle cx="1745.80" cy="648.90" r="4.75" fill="#fff" stroke="#000" stroke-width="1.85"/>
<circle cx="1741.00" cy="648.90" r="4.75" fill="#fff" stroke="#000" stroke-width="1.85"/>
<circle cx="1736.30" cy="648.90" r="4.75" fill="#fff" stroke="#000" stroke-width="1.85"/>
<circle cx="1730.80" cy="648.90" r="4.75" fill="#fff" stroke="#000" stroke-width="1.85"/>
<circle cx="1726.00" cy="658.80" r="4.75" fill="#fff" stroke="#000" stroke-width="1.85"/>
<circle cx="1735.50" cy="658.80" r="4.75" fill="#fff" stroke="#000" stroke-width="1.85"/>
<circle cx="1741.00" cy="658.80" r="4.75" fill="#fff" stroke="#000" stroke-width="1.85"/>
<circle cx="1731.60" cy="674.60" r="4.75" fill="#fff" stroke="#000" stroke-width="1.85"/>
<circle cx="1735.80" cy="674.60" r="4.75" fill="#fff" stroke="#000" stroke-width="1.85"/>
<circle cx="1794.00" cy="751.40" r="4.75" fill="#fff" stroke="#000" stroke-width="1.85"/>
<circle cx="1781.30" cy="848.80" r="4.40" fill="#fff" stroke="#000" stroke-width="1.85"/>
<circle cx="1790.20" cy="848.80" r="4.40" fill="#fff" stroke="#000" stroke-width="1.85"/>
<circle cx="1798.60" cy="848.80" r="4.40" fill="#fff" stroke="#000" stroke-width="1.85"/>
<circle cx="1807.10" cy="848.80" r="4.40" fill="#fff" stroke="#000" stroke-width="1.85"/>
<circle cx="1837.10" cy="802.60" r="4.75" fill="#fff" stroke="#000" stroke-width="1.85"/>
<circle cx="1824.70" cy="848.80" r="4.40" fill="#fff" stroke="#000" stroke-width="1.85"/>
<circle cx="1833.10" cy="848.80" r="4.40" fill="#fff" stroke="#000" stroke-width="1.85"/>
<circle cx="1841.60" cy="848.80" r="4.40" fill="#fff" stroke="#000" stroke-width="1.85"/>
<circle cx="1850.10" cy="848.80" r="4.40" fill="#fff" stroke="#000" stroke-width="1.85"/>
<text y="597.90" font-size="24.3"><tspan x="1556.27" font-style="italic">P</tspan> <tspan x="1576.92">=</tspan> <tspan x="1597.53">0.8731</tspan></text>
<line x1="1584.60" y1="606.30" x2="1629.10" y2="606.30" stroke="#1c1a1b" stroke-width="1.6" stroke-linecap="butt"/>
<text y="559.60" font-size="24.3"><tspan x="1652.47" font-style="italic">P</tspan> <tspan x="1673.12">=</tspan> <tspan x="1693.73">0.8353</tspan></text>
<line x1="1688.60" y1="567.90" x2="1732.80" y2="567.90" stroke="#1c1a1b" stroke-width="1.6" stroke-linecap="butt"/>
<text y="722.40" font-size="24.3"><tspan x="1764.67" font-style="italic">P</tspan> <tspan x="1785.32">=</tspan> <tspan x="1805.93">0.8348</tspan></text>
<line x1="1792.50" y1="732.20" x2="1836.90" y2="732.20" stroke="#1c1a1b" stroke-width="1.6" stroke-linecap="butt"/>
<text x="1572.22" y="879.80" font-size="27.70">4 dpi</text>
<text x="1679.69" y="879.80" font-size="27.70">7 dpi</text>
<text x="1785.67" y="879.80" font-size="27.70">9 dpi</text>
<text transform="rotate(-90)" font-size="32.00"><tspan x="-823.46" y="1511.50">log</tspan><tspan x="-779.41" y="1522.40" font-size="18.75">10</tspan> <tspan x="-750.42" y="1511.50" font-size="32.12">TCID50/25µL</tspan></text>
<rect x="1911.80" y="492.20" width="28.20" height="15.90" fill="#a9a9a9" stroke="#1c1a1b" stroke-width="1.7"/>
<rect x="1911.80" y="535.10" width="28.20" height="16.00" fill="#ff2600" stroke="#1c1a1b" stroke-width="1.7"/>
<text transform="translate(0 509.40) scale(1 1.03)" font-weight="bold" font-size="27.2"><tspan x="1948.52" y="0">Ab1</tspan><tspan x="2001.81" y="-8.54" font-size="16.50">fl/fl</tspan></text>
<text transform="translate(0 553.10) scale(1 1.03)" font-weight="bold" font-size="27.95"><tspan x="1948.56" y="0">SPC</tspan><tspan x="2006.31" y="-9.22" font-size="16.4" font-weight="normal">Δ</tspan><tspan x="2017.01" y="-9.22" font-size="15.6">Ab1</tspan></text>
</svg>
</body>
</html>
